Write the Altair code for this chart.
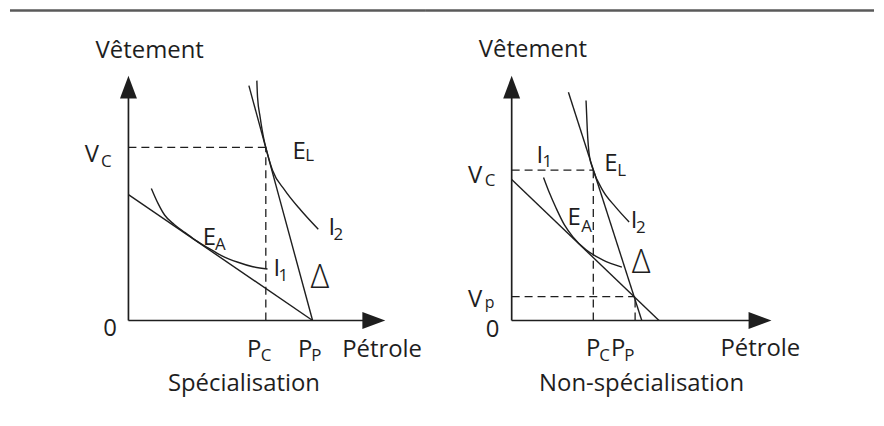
import altair as alt
import pandas as pd

FONT = "Open Sans"
INK = "#1e1e1e"
RULE_COLOR = "#5a5a5a"

# Common vertical frame (diagram units, origin at the axes' crossing)
Y_DOM = [-99, 313]
RULE_Y = 311.5
PANEL_H = 412

# ---------------- Left panel : Spécialisation ----------------
L_XDOM = [-119, 298]
L_W = 417
L_XTIP = 258      # end of the Pétrole axis arrow
L_YTIP = 246      # end of the Vêtement axis arrow

L_I1_X = [23, 29.7, 36.3, 46, 57, 68, 80, 93, 110, 125, 139.7]
L_I1_Y = [132.7, 117.7, 106, 96.5, 88.3, 80.3, 73, 65.5, 58.5, 54, 51.7]
L_I2_X = [129, 129.7, 132.3, 136.3, 138, 144.7, 157, 173, 190.7]
L_I2_Y = [241, 224.3, 204.3, 181, 174, 151, 131, 111, 91.7]
L_DELTA_X = [121, 185]
L_DELTA_Y = [236, 0]
L_BUDGET_X = [0, 185]
L_BUDGET_Y = [126.5, 0]
L_VC, L_PC = 174, 138
L_GUIDE_X = [0, L_PC]
L_GUIDE_Y = [L_VC, 0]
L_GUIDE_X2 = [L_PC, L_PC]
L_GUIDE_Y2 = [L_VC, L_VC]

L_LAB_T = ["Vêtement", "V", "C", "E", "L", "I", "2", "E", "A", "I", "1",
           "0", "P", "C", "P", "P", "Pétrole"]
L_LAB_X = [-33, -44, -27.5, 164.7, 177.5, 201, 206, 74.7, 87, 145.7, 150.7,
           -25.3, 119, 133, 170.3, 183.7, 214.7]
L_LAB_Y = [264, 159, 154, 162, 160, 86, 81, 76, 71, 45, 39.3,
           -15.7, -36.3, -40.7, -36.3, -40.7, -36.3]
L_LAB_S = [24, 24, 17, 24, 17, 24, 17, 24, 17, 24, 17,
           24, 24, 17, 24, 17, 24]
L_DELTA_LAB = (183, 32.5)
L_CAPTION = "Spécialisation"
L_CAP_X, L_CAP_Y = 116, -70.7

# ---------------- Right panel : Non-spécialisation ----------------
R_XDOM = [-87, 364]
R_W = 451
R_XTIP = 261
R_YTIP = 246

R_I1_X = [32, 38, 44.7, 53, 61.3, 74.7, 91.3, 110.7]
R_I1_Y = [143.7, 128, 112.7, 96, 84.3, 71, 61, 53.7]
R_I2_X = [74.7, 76, 78, 82, 91.3, 104.7, 118]
R_I2_Y = [221, 191, 166, 151, 131, 113.7, 99]
R_DELTA_X = [57, 130.7]
R_DELTA_Y = [229.3, 0]
R_BUDGET_X = [0, 148]
R_BUDGET_Y = [141.7, 0]
R_VC, R_PC, R_VP, R_PP = 151, 82, 24, 124
R_GUIDE_X = [0, R_PC, 0, R_PP]
R_GUIDE_Y = [R_VC, 0, R_VP, 0]
R_GUIDE_X2 = [R_PC, R_PC, R_PP, R_PP]
R_GUIDE_Y2 = [R_VC, R_VC, R_VP, R_VP]

R_LAB_T = ["Vêtement", "V", "C", "I", "1", "E", "L", "E", "A", "I", "2",
           "V", "p", "0", "P", "C", "P", "P", "Pétrole"]
R_LAB_X = [-33, -44, -27, 25, 31, 93, 106, 56, 70, 119.7, 125,
           -44, -27, -26, 74.7, 88, 99.7, 113, 209.7]
R_LAB_Y = [264.3, 138, 135, 158, 154, 150, 145, 96, 89, 93, 88,
           14, 12.5, -16.5, -36, -40.7, -36, -40.7, -36]
R_LAB_S = [24, 24, 17, 24, 17, 24, 17, 24, 17, 24, 17,
           24, 16, 24, 24, 17, 24, 17, 24]
R_DELTA_LAB = (120.7, 48)
R_CAPTION = "Non-spécialisation"
R_CAP_X, R_CAP_Y = 130.5, -70.7

ARROW_LEN = 23
RIGHT_ARROW = "M1,0L-1,-0.74L-1,0.74Z"
UP_ARROW = "M0,-1L0.74,1L-0.74,1Z"


def panel(xdom, width, xtip, ytip, curves, lines, gx, gy, gx2, gy2,
          lab_t, lab_x, lab_y, lab_s, delta_lab, caption, cap_x, cap_y):
    xs = alt.Scale(domain=xdom, nice=False, zero=False)
    ys = alt.Scale(domain=Y_DOM, nice=False, zero=False)

    def X(f="x"):
        return alt.X(f"{f}:Q", scale=xs, axis=None)

    def Y(f="y"):
        return alt.Y(f"{f}:Q", scale=ys, axis=None)

    top = alt.Chart(pd.DataFrame({"x": [xdom[0]], "x2": [xdom[1]], "y": [RULE_Y]})).mark_rule(
        color=RULE_COLOR, strokeWidth=2.5).encode(x=X(), x2="x2:Q", y=Y())

    half = ARROW_LEN / 2
    axes_df = pd.DataFrame({"x": [0, 0], "y": [0, 0],
                            "x2": [xtip - half, 0], "y2": [0, ytip - half]})
    axes = alt.Chart(axes_df).mark_rule(color=INK, strokeWidth=1.7).encode(
        x=X(), y=Y(), x2="x2:Q", y2="y2:Q")

    arr_r = alt.Chart(pd.DataFrame({"x": [xtip - half], "y": [0]})).mark_point(
        shape=RIGHT_ARROW, size=ARROW_LEN ** 2, filled=True, opacity=1, color=INK,
        strokeWidth=0).encode(x=X(), y=Y())
    arr_u = alt.Chart(pd.DataFrame({"x": [0], "y": [ytip - half]})).mark_point(
        shape=UP_ARROW, size=ARROW_LEN ** 2, filled=True, opacity=1, color=INK,
        strokeWidth=0).encode(x=X(), y=Y())

    guides = alt.Chart(pd.DataFrame({"x": gx, "y": gy, "x2": gx2, "y2": gy2})).mark_rule(
        color=INK, strokeWidth=1.3, strokeDash=[8, 5]).encode(
        x=X(), y=Y(), x2="x2:Q", y2="y2:Q")

    rows = []
    for name, (cx, cy) in lines.items():
        for i, (a, b) in enumerate(zip(cx, cy)):
            rows.append({"id": name, "i": i, "x": a, "y": b})
    straight = alt.Chart(pd.DataFrame(rows)).mark_line(
        color=INK, strokeWidth=1.4).encode(
        x=X(), y=Y(), detail="id:N", order="i:Q")

    rows = []
    for name, (cx, cy) in curves.items():
        for i, (a, b) in enumerate(zip(cx, cy)):
            rows.append({"id": name, "i": i, "x": a, "y": b})
    curv = alt.Chart(pd.DataFrame(rows)).mark_line(
        color=INK, strokeWidth=1.4, interpolate="monotone").encode(
        x=X(), y=Y(), detail="id:N", order="i:Q")

    lab_df = pd.DataFrame({"t": lab_t, "x": lab_x, "y": lab_y, "fs": lab_s})
    labels = alt.Chart(lab_df).mark_text(
        align="left", baseline="alphabetic", font=FONT, color=INK).encode(
        x=X(), y=Y(), text="t:N", size=alt.Size("fs:Q", scale=None))

    delta = alt.Chart(pd.DataFrame({"t": ["Δ"], "x": [delta_lab[0]], "y": [delta_lab[1]]})).mark_text(
        align="left", baseline="alphabetic", font=FONT, fontWeight=300, color=INK,
        fontSize=33).encode(x=X(), y=Y(), text="t:N")

    cap = alt.Chart(pd.DataFrame({"t": [caption], "x": [cap_x], "y": [cap_y]})).mark_text(
        align="center", baseline="alphabetic", font=FONT, color=INK, fontSize=24).encode(
        x=X(), y=Y(), text="t:N")

    return alt.layer(top, guides, straight, curv, axes, arr_r, arr_u, labels, delta, cap).properties(
        width=width, height=PANEL_H)


left = panel(L_XDOM, L_W, L_XTIP, L_YTIP,
             {"I1": (L_I1_X, L_I1_Y), "I2": (L_I2_X, L_I2_Y)},
             {"delta": (L_DELTA_X, L_DELTA_Y), "budget": (L_BUDGET_X, L_BUDGET_Y)},
             L_GUIDE_X, L_GUIDE_Y, L_GUIDE_X2, L_GUIDE_Y2,
             L_LAB_T, L_LAB_X, L_LAB_Y, L_LAB_S, L_DELTA_LAB, L_CAPTION, L_CAP_X, L_CAP_Y)

right = panel(R_XDOM, R_W, R_XTIP, R_YTIP,
              {"I1": (R_I1_X, R_I1_Y), "I2": (R_I2_X, R_I2_Y)},
              {"delta": (R_DELTA_X, R_DELTA_Y), "budget": (R_BUDGET_X, R_BUDGET_Y)},
              R_GUIDE_X, R_GUIDE_Y, R_GUIDE_X2, R_GUIDE_Y2,
              R_LAB_T, R_LAB_X, R_LAB_Y, R_LAB_S, R_DELTA_LAB, R_CAPTION, R_CAP_X, R_CAP_Y)

chart = alt.hconcat(left, right, spacing=0, bounds="flush").properties(
    padding=0, background="white"
).configure_view(stroke=None)

chart.save("out.html", embed_options={"renderer": "svg", "actions": False})
